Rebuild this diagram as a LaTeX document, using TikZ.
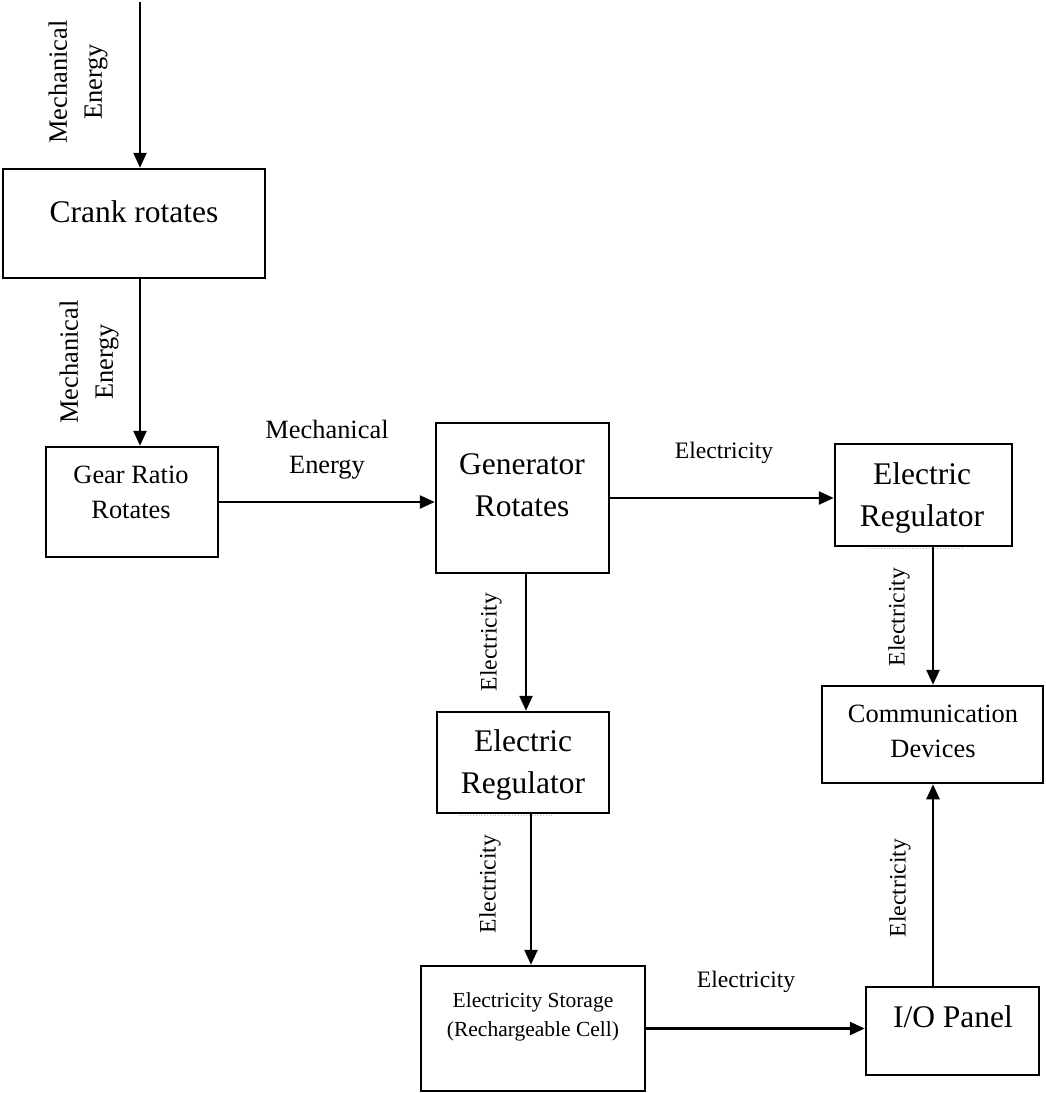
\documentclass[tikz,border=0pt]{standalone}
\usepackage{fontspec}
\setmainfont{Liberation Serif}
\usetikzlibrary{arrows.meta}
\begin{document}
\begin{tikzpicture}[x=1pt,y=-1pt,
  box/.style={draw, line width=2.5pt, inner sep=0pt},
  arr/.style={-{Triangle[length=15pt,width=13pt]}, line width=2.5pt},
  big/.style={font=\fontsize{31.5}{42}\selectfont, align=center, inner sep=0pt},
  mid/.style={font=\fontsize{26.4}{35}\selectfont, align=center, inner sep=0pt},
  sml/.style={font=\fontsize{23.6}{30}\selectfont, inner sep=0pt},
  tny/.style={font=\fontsize{21.5}{29}\selectfont, align=center, inner sep=0pt},
  ghost/.style={draw=black!25, line width=0.8pt, dotted}]
\useasboundingbox (0,0) rectangle (1045,1093);

% boxes
\node[box, minimum width=262pt, minimum height=109pt] (crank) at (134,223.5) {};
\node[box, minimum width=172pt, minimum height=110pt] (gear) at (132,502) {};
\node[box, minimum width=173pt, minimum height=150pt] (gen) at (522.5,498) {};
\node[box, minimum width=177pt, minimum height=102pt] (regR) at (923.5,495) {};
\node[box, minimum width=172pt, minimum height=101pt] (regM) at (523,762.5) {};
\node[box, minimum width=221pt, minimum height=97pt] (comm) at (932.5,734.5) {};
\node[box, minimum width=224pt, minimum height=125pt] (stor) at (533,1028.5) {};
\node[box, minimum width=173pt, minimum height=88pt] (io) at (952.5,1031) {};

% box texts
\node[big] (tcrank) at (134,212) {Crank rotates};
\node[mid] (tgear) at (131,492.5) {Gear Ratio\\Rotates};
\node[big] (tgen) at (522,485) {Generator\\Rotates};
\node[big] (tregR) at (922,498) {Electric\\Regulator};
\node[big] (tregM) at (523,765) {Electric\\Regulator};
\node[mid] (tcomm) at (933,731) {Communication\\Devices};
\node[tny] (tstor) at (533,1017) {Electricity Storage\\(Rechargeable Cell)};
\node[big] (tio) at (953,1017) {I/O Panel};

% faint marks under regulators
\draw[ghost] (867,548) -- (963,548);
\draw[ghost] (459,815) -- (553,815);

% connectors
\coordinate (top) at (140,2);
\draw[arr] (top) -- (top |- crank.north);
\draw[arr] ([xshift=6pt]crank.south) -- ([xshift=6pt]crank.south |- gear.north);
\draw[arr] (gear.east) -- (gear.east -| gen.west);
\draw[arr] (gen.east) -- (gen.east -| regR.west);
\draw[arr] ([xshift=3.5pt]gen.south) -- ([xshift=3.5pt]gen.south |- regM.north);
\draw[arr] ([xshift=9.5pt]regR.south) -- ([xshift=9.5pt]regR.south |- comm.north);
\draw[arr] ([xshift=8pt]regM.south) -- ([xshift=8pt]regM.south |- stor.north);
\draw[arr] (stor.east) -- (stor.east -| io.west);
\draw[arr] ([xshift=-19.5pt]io.north) -- ([xshift=-19.5pt]io.north |- comm.south);

% connector labels
\node[mid, rotate=90] (l1) at (78,82) {Mechanical\\Energy};
\node[mid, rotate=90] (l2) at (89,362) {Mechanical\\Energy};
\node[mid] (l3) at (327,450) {Mechanical\\Energy};
\node[sml] (l4) at (724,453) {Electricity};
\node[sml, rotate=90] (l5) at (491,642) {Electricity};
\node[sml, rotate=90] (l6) at (899,617) {Electricity};
\node[sml, rotate=90] (l7) at (490,884) {Electricity};
\node[sml, rotate=90] (l8) at (900,888) {Electricity};
\node[sml] (l9) at (746,982) {Electricity};
\end{tikzpicture}
\end{document}
